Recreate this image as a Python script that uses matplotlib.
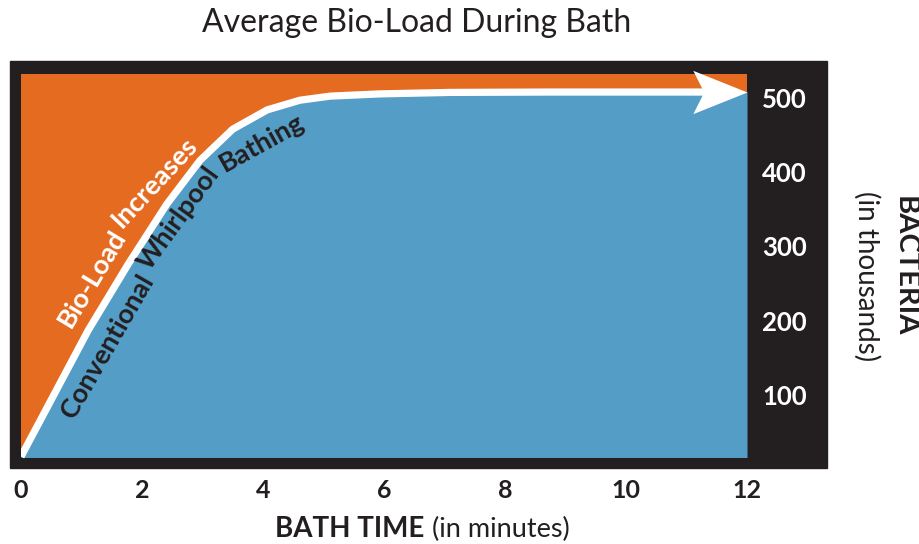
import matplotlib
matplotlib.use("Agg")
import matplotlib.pyplot as plt
from matplotlib.patches import Rectangle
from matplotlib.path import Path
import numpy as np

# ---- data ----
bath_time = [0.0, 1.11, 1.77, 2.41, 2.96, 3.50, 4.07, 4.61, 5.11, 5.93, 7.09, 8.74, 12.0]
bacteria = [17, 187, 276, 357, 416, 458, 484, 497, 502.5, 505.5, 507.5, 508, 508]
x_ticks = [0, 2, 4, 6, 8, 10, 12]
y_ticks = [100, 200, 300, 400, 500]

title = "Average Bio-Load During Bath"
xlabel_bold = "BATH TIME"
xlabel_norm = "(in minutes)"
ylabel_bold = "BACTERIA"
ylabel_norm = "(in thousands)"

ORANGE = "#E56B21"
BLUE = "#539DC6"
DARK = "#231F20"

W, H = 920, 544
plt.rcParams['font.family'] = ['Lato', 'DejaVu Sans']
fig = plt.figure(figsize=(W / 100, H / 100), dpi=100)

def fx(px):
    return px / W

def fy(py):
    return 1 - py / H

# black frame
frame = Rectangle((fx(10), fy(468)), fx(827) - fx(10), fy(61) - fy(468),
                  transform=fig.transFigure, color=DARK, zorder=0)
fig.patches.append(frame)

ax = fig.add_axes([fx(21), fy(457), fx(747) - fx(21), fy(74) - fy(457)])
ax.set_zorder(2)
ax.set_facecolor(ORANGE)
for s in ax.spines.values():
    s.set_visible(False)
ax.set_xlim(0, 12)
ax.set_ylim(16.5, 532.3)

ax.fill_between(bath_time, 0, bacteria, color=BLUE, lw=0, zorder=1)
line, = ax.plot(bath_time, bacteria, color="white", lw=5.2, solid_capstyle="butt",
                solid_joinstyle="round", zorder=3)
line.set_clip_path(Rectangle((0, 0), 11.3, 1000, transform=ax.transData))

# arrow head as custom marker with tip at the origin
verts = [(0, 0), (-1, 0.40), (-0.8, 0), (-1, -0.40), (0, 0)]
codes = [Path.MOVETO, Path.LINETO, Path.LINETO, Path.LINETO, Path.CLOSEPOLY]
arrow = Path(verts, codes)
ax.plot([bath_time[-1]], [bacteria[-1]], marker=arrow, markersize=78, color="white",
        markeredgewidth=0, zorder=4, clip_on=False, linestyle="none")

# curve texts
FS = 19.5
ax.text(1.17, 257, "Bio-Load", color="white", fontsize=FS, fontweight="bold",
        rotation=59, rotation_mode="anchor", ha="center", va="center", zorder=5)
ax.text(2.21, 387, "Increases", color="white", fontsize=FS, fontweight="bold",
        rotation=47, rotation_mode="anchor", ha="center", va="center", zorder=5)
ax.text(1.42, 166, "Conventional", color=DARK, fontsize=FS, fontweight="bold",
        rotation=60, rotation_mode="anchor", ha="center", va="center", zorder=5)
ax.text(2.60, 338, "Whirlpool", color=DARK, fontsize=FS, fontweight="bold",
        rotation=54, rotation_mode="anchor", ha="center", va="center", zorder=5)
ax.text(3.98, 439, "Bathing", color=DARK, fontsize=FS, fontweight="bold",
        rotation=29, rotation_mode="anchor", ha="center", va="center", zorder=5)

# ticks
ax.set_xticks(x_ticks)
ax.set_xticklabels([str(v) for v in x_ticks], fontsize=18, fontweight="bold", color=DARK)
ax.yaxis.tick_right()
ax.set_yticks(y_ticks)
ax.set_yticklabels([str(v) for v in y_ticks], fontsize=18.5, fontweight="bold", color="white")
ax.tick_params(axis="x", length=0, pad=16)
ax.tick_params(axis="y", length=0, pad=11)

# title and labels
fig.text(fx(417), fy(32), title, ha="center", va="baseline", fontsize=23, color=DARK)
fig.text(fx(424), fy(537), xlabel_bold, ha="right", va="baseline", fontsize=20,
         fontweight="bold", color=DARK)
fig.text(fx(432), fy(537), xlabel_norm, ha="left", va="baseline", fontsize=19.5, color=DARK)
fig.text(fx(905), fy(266), ylabel_bold, ha="center", va="center", rotation=270,
         fontsize=21, fontweight="bold", color=DARK)
fig.text(fx(867), fy(276), ylabel_norm, ha="center", va="center", rotation=270,
         fontsize=20, color=DARK)

fig.savefig("out.png", dpi=100)
